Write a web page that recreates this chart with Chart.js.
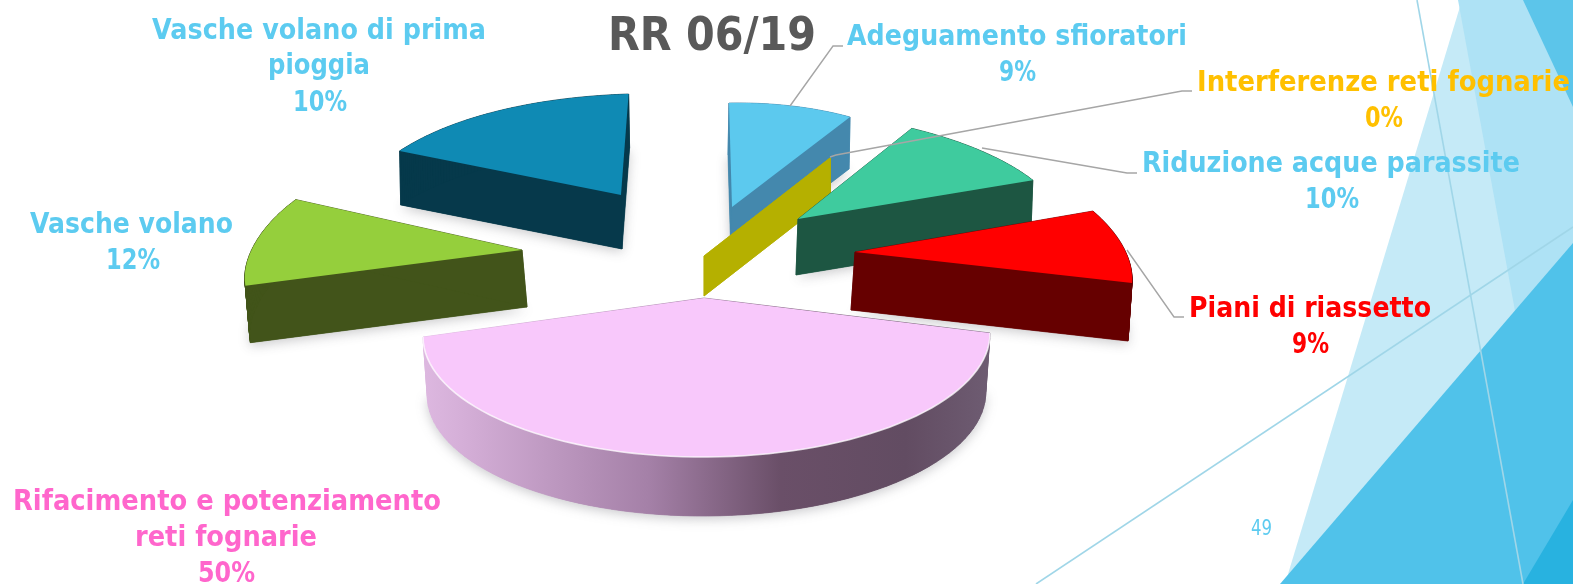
<!DOCTYPE html>
<html><head><meta charset="utf-8">
<style>html,body{margin:0;padding:0;background:#fff;overflow:hidden}canvas{display:block}</style>
<script src="https://cdn.jsdelivr.net/npm/chart.js@4/dist/chart.umd.min.js"></script>
</head><body><canvas id="c" width="1573" height="584"></canvas>
<script>
const chartTitle = 'RR 06/19';
const pageNumber = '49';
const categories = [
  ['Adeguamento sfioratori'],
  ['Interferenze reti fognarie'],
  ['Riduzione acque parassite'],
  ['Piani di riassetto'],
  ['Rifacimento e potenziamento', 'reti fognarie'],
  ['Vasche volano'],
  ['Vasche volano di prima', 'pioggia']
];
const values = [9, 0, 10, 9, 50, 12, 10];
const topColors = ['#5CC9EE', '#FFC000', '#3FCB9E', '#FF0000', '#F8C8FB', '#95CF3C', '#0F8AB4'];
const wallColors = ['#4488AD', '#B5B000', '#1D5642', '#660000', null, '#42541A', '#06394B'];
const labelColors = ['#5CCBF0', '#FFC000', '#5CCBF0', '#FF0000', '#FF66CC', '#5CCBF0', '#5CCBF0'];

// Perspective pose of each exploded slice, relative to the pie centre, in units scaled by the arc radius
const poses = [
  {dx:-54.5, dy:-85, c1:[225,-4],    c2:[-3,-104],    depth:[-1,52]},
  {dx:-82.5, dy:-36, c1:[235,0],     c2:[0,-116],     depth:[0,40]},
  {dx:11.5,  dy:-73, c1:[266,1],     c2:[-34,-108],   depth:[-2,56]},
  {dx:68.5,  dy:-40, c1:[273.5,7],   c2:[-44.6,-129], depth:[-4,58]},
  {dx:-80,   dy:43,  c1:[283.5,-2],  c2:[-1,-122],    depth:[0,59], lift:[-2.5,-37], spin:-0.1885, bevel:true, taper:0.985},
  {dx:-264.5,dy:-42, c1:[265,-56],   c2:[-87,-103],   depth:[5,57], bulge:-0.015},
  {dx:-165.5,dy:-97, c1:[387,-64],   c2:[7.6,-101],   depth:[1,54], bulge:0.1}
];
const drawOrder = [0, 6, 1, 2, 5, 3, 4];

// [left, right, baseline] of every text line: name lines, then the percentage
const labelBoxes = [
  [[847,1187,45],[999,1036,81]],
  [[1197,1570,91],[1365,1403,127]],
  [[1142,1520,172],[1305,1359,208]],
  [[1189,1431,317],[1292,1329,353]],
  [[13,441,510],[135,317,546],[198,255,582]],
  [[30,233,233],[106,160,269]],
  [[152,486,39],[268,370,74],[293,347,111]]
];
const leaders = [
  [[790,106],[833,46],[843,46]],
  [[830,157],[836,155],[1182,91],[1192,91]],
  [[982,148],[1127,173],[1137,173]],
  [[1127,250],[1174,317],[1184,317]]
];

const backdrop = [
  {fill:'#C5EAF7', pts:[[1462,0],[1573,0],[1573,584],[1285,584]]},
  {fill:'#AEE2F5', pts:[[1458,0],[1573,0],[1573,420],[1535,420]]},
  {fill:'#5CC5EA', pts:[[1523,0],[1573,0],[1573,107]]},
  {fill:'#50C2EA', pts:[[1280,584],[1573,243],[1573,584]]},
  {fill:'#28B2E0', pts:[[1523,584],[1573,500],[1573,584]]}
];
const backdropLines = [[[1417,0],[1523,584]], [[1036,584],[1573,227]]];

function fittedText(ctx, text, box, font, color){
  ctx.save();
  ctx.font = font; ctx.fillStyle = color;
  ctx.textAlign = 'left'; ctx.textBaseline = 'alphabetic';
  const w = ctx.measureText(text).width;
  ctx.translate(box[0], box[2]);
  ctx.scale((box[1]-box[0])/w, 1);
  ctx.fillText(text, 0, 0);
  ctx.restore();
}

function outline(arc, pose){
  const k = arc.outerRadius/292, cx = arc.x+pose.dx, cy = arc.y+pose.dy;
  const lift = pose.lift || [0,0], pts = [[cx+lift[0], cy+lift[1]]], n = 72;
  for(let i=0;i<=n;i++){
    const t = i/n, a = arc.startAngle+(arc.endAngle-arc.startAngle)*t+(pose.spin||0);
    const b = k*(1+(pose.bulge||0)*Math.sin(Math.PI*t));
    const ux = Math.cos(a), uy = -Math.sin(a);
    pts.push([cx+(pose.c1[0]*ux+pose.c2[0]*uy)*b, cy+(pose.c1[1]*ux+pose.c2[1]*uy)*b]);
  }
  return pts;
}
function trace(ctx, pts){
  ctx.beginPath();
  pts.forEach((p,i)=> i? ctx.lineTo(p[0],p[1]): ctx.moveTo(p[0],p[1]));
  ctx.closePath();
}
const pie3d = {
  id:'pie3d',
  beforeDraw(chart){
    const ctx = chart.ctx;
    ctx.save();
    backdrop.forEach(s=>{ trace(ctx,s.pts); ctx.fillStyle=s.fill; ctx.fill(); });
    ctx.strokeStyle='#A0D6E8'; ctx.lineWidth=1.6;
    backdropLines.forEach(l=>{ ctx.beginPath(); ctx.moveTo(l[0][0],l[0][1]); ctx.lineTo(l[1][0],l[1][1]); ctx.stroke(); });
    ctx.restore();
  },
  beforeDatasetsDraw(chart){
    const ctx = chart.ctx, arcs = chart.getDatasetMeta(0).data;
    drawOrder.forEach(i=>{
      const arc = arcs[i], pose = poses[i], pts = outline(arc,pose), d = pose.depth;
      const midX = arc.x+pose.dx, taper = pose.taper||1;
      const low = pts.map(p=>[midX+(p[0]-midX)*taper+d[0], p[1]+d[1]]);
      let wall = wallColors[i];
      if(!wall){
        const xs = pts.map(p=>p[0]), g = ctx.createLinearGradient(Math.min(...xs),0,Math.max(...xs),0);
        g.addColorStop(0,'#DDB8E0'); g.addColorStop(0.06,'#D6B0D9'); g.addColorStop(0.4,'#A480A7');
        g.addColorStop(0.63,'#6A4F68'); g.addColorStop(0.85,'#624C62'); g.addColorStop(1,'#6E5C72');
        wall = g;
      }
      ctx.save();
      ctx.fillStyle = wall; ctx.strokeStyle = wall; ctx.lineWidth = 0.7;
      ctx.shadowColor='rgba(60,60,70,0.28)'; ctx.shadowBlur=12; ctx.shadowOffsetY=3;
      trace(ctx,low); ctx.fill();
      ctx.shadowColor='transparent';
      for(let j=0;j<pts.length;j++){
        const m=(j+1)%pts.length;
        trace(ctx,[pts[j],pts[m],low[m],low[j]]);
        ctx.fill(); ctx.stroke();
      }
      if(arc.endAngle>arc.startAngle){
        ctx.fillStyle = arc.options.backgroundColor;
        trace(ctx,pts); ctx.fill();
        if(pose.bevel){
          ctx.strokeStyle='rgba(255,255,255,0.75)'; ctx.lineWidth=1.6; ctx.beginPath();
          pts.slice(1).forEach((p,j)=> j? ctx.lineTo(p[0],p[1]): ctx.moveTo(p[0],p[1]));
          ctx.stroke();
        }
      }
      ctx.restore();
    });
    return false;
  },
  afterDraw(chart){
    const ctx = chart.ctx, ds = chart.data.datasets[0], total = ds.data.reduce((a,b)=>a+b,0);
    ctx.save();
    ctx.strokeStyle='#A6A6A6'; ctx.lineWidth=1.4;
    leaders.forEach(l=>{ ctx.beginPath(); l.forEach((p,i)=> i? ctx.lineTo(p[0],p[1]): ctx.moveTo(p[0],p[1])); ctx.stroke(); });
    ctx.restore();
    const font = 'bold 29px "DejaVu Sans"';
    chart.data.labels.forEach((name,i)=>{
      const lines = name.concat(Math.round(ds.data[i]/total*100)+'%');
      lines.forEach((t,j)=> fittedText(ctx,t,labelBoxes[i][j],font,labelColors[i]));
    });
    fittedText(ctx,chartTitle,[608,816,50],'bold 47px "DejaVu Sans"','#595959');
    fittedText(ctx,pageNumber,[1251,1272,535],'21px "DejaVu Sans"','#5CCBF0');
  }
};
new Chart(document.getElementById('c'),{
  type:'pie',
  data:{labels:categories,datasets:[{data:values,backgroundColor:topColors,borderWidth:0}]},
  options:{responsive:false,animation:false,rotation:0,
    plugins:{legend:{display:false},tooltip:{enabled:false},title:{display:false}},
    layout:{padding:0}},
  plugins:[pie3d]
});
</script></body></html>
